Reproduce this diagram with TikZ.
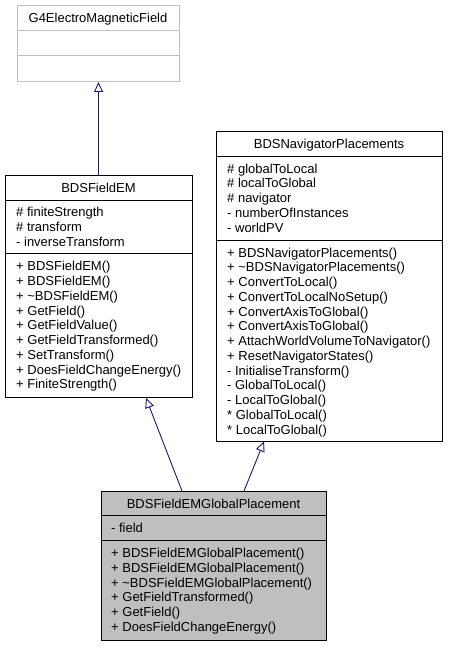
\documentclass[tikz,border=0pt]{standalone}
\usepackage{fontspec}
\setmainfont{Liberation Sans}
\usetikzlibrary{arrows.meta,calc}
\definecolor{navy}{HTML}{191970}
\definecolor{fillgray}{HTML}{BFBFBF}
\definecolor{lightborder}{HTML}{BFBFBF}
\definecolor{txt}{HTML}{000000}
\begin{document}
\begin{tikzpicture}[x=1pt,y=-1pt,
  every node/.style={font=\fontsize{13}{14.75}\selectfont, inner sep=0pt, text=txt},
  clsbox/.style={draw=black, line width=1pt, anchor=north west, inner sep=0pt},
  extbox/.style={draw=lightborder, line width=1pt, anchor=north west, inner sep=0pt},
  sepline/.style={draw=black, line width=1pt},
  extsep/.style={draw=lightborder, line width=1pt},
  member/.style={anchor=base west},
  title/.style={anchor=base},
  inh/.style={draw=navy, line width=0.9pt, -{Triangle[open, length=10pt, width=9pt]}}
]
\useasboundingbox (0,0) rectangle (448,647);

% ---------- G4ElectroMagneticField ----------
\node[extbox, minimum width=162pt, minimum height=76pt] (g4) at (17,5) {};
\draw[extsep] (17,30.5) -- (179,30.5);
\draw[extsep] (17,56) -- (179,56);
\node[title] (g4t) at (98,22.5) {G4ElectroMagneticField};

% ---------- BDSFieldEM ----------
\node[clsbox, minimum width=187pt, minimum height=222pt] (em) at (5,175) {};
\draw[sepline] (5,200) -- (192,200);
\draw[sepline] (5,253.5) -- (192,253.5);
\node[title] (emt) at (98.5,192.5) {BDSFieldEM};
\foreach \t [count=\i from 0] in {\# finiteStrength, \# transform, - inverseTransform}
  \node[member] (emA\i) at ({16},{216.7+\i*14.75}) {\t};
\foreach \t [count=\i from 0] in {+ BDSFieldEM(), + BDSFieldEM(), {+ \textasciitilde BDSFieldEM()}, + GetField(), + GetFieldValue(), + GetFieldTransformed(), + SetTransform(), + DoesFieldChangeEnergy(), + FiniteStrength()}
  \node[member] (emM\i) at ({16},{270.8+\i*14.75}) {\t};

% ---------- BDSNavigatorPlacements ----------
\node[clsbox, minimum width=226pt, minimum height=309pt] (nav) at (216,131.5) {};
\draw[sepline] (216,156.5) -- (442,156.5);
\draw[sepline] (216,240.5) -- (442,240.5);
\node[title] (navt) at (329,148.5) {BDSNavigatorPlacements};
\foreach \t [count=\i from 0] in {\# globalToLocal, \# localToGlobal, \# navigator, - numberOfInstances, - worldPV}
  \node[member] (navA\i) at ({227},{173+\i*14.75}) {\t};
\foreach \t [count=\i from 0] in {+ BDSNavigatorPlacements(), {+ \textasciitilde BDSNavigatorPlacements()}, + ConvertToLocal(), + ConvertToLocalNoSetup(), + ConvertAxisToGlobal(), + ConvertAxisToGlobal(), + AttachWorldVolumeToNavigator(), + ResetNavigatorStates(), - InitialiseTransform(), - GlobalToLocal(), - LocalToGlobal(), * GlobalToLocal(), * LocalToGlobal()}
  \node[member] (navM\i) at ({227},{257+\i*14.75}) {\t};

% ---------- BDSFieldEMGlobalPlacement ----------
\node[clsbox, fill=fillgray, minimum width=225pt, minimum height=149pt] (gp) at (101,491) {};
\draw[sepline] (101,515.5) -- (326,515.5);
\draw[sepline] (101,540.5) -- (326,540.5);
\node[title] (gpt) at (213.5,508) {BDSFieldEMGlobalPlacement};
\node[member] (gpA0) at (111,532) {- field};
\foreach \t [count=\i from 0] in {+ BDSFieldEMGlobalPlacement(), + BDSFieldEMGlobalPlacement(), {+ \textasciitilde BDSFieldEMGlobalPlacement()}, + GetFieldTransformed(), + GetField(), + DoesFieldChangeEnergy()}
  \node[member] (gpM\i) at ({111},{557.5+\i*14.75}) {\t};

% ---------- inheritance ----------
\draw[inh] (em.north -| g4.south) -- (g4.south);
\draw[inh] ($(gp.north west)+(81,0)$) -- ($(em.south west)+(141,0)$);
\draw[inh] ($(gp.north west)+(143,0)$) -- ($(nav.south west)+(48,0)$);
\end{tikzpicture}
\end{document}
